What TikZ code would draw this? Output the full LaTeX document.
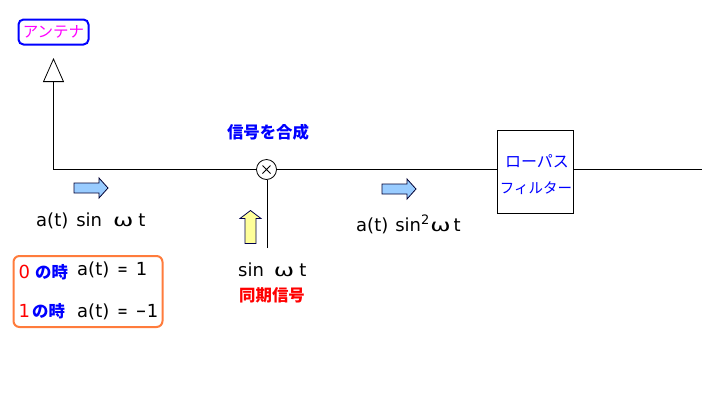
\documentclass[tikz,border=0pt]{standalone}
\usepackage{graphicx}
\usepackage{fontspec}
\setmainfont{DejaVu Sans}
\newfontfamily\jp{Noto Sans CJK JP}
\usetikzlibrary{arrows.meta}
\definecolor{flowblue}{RGB}{153,204,255}
\definecolor{syncyellow}{RGB}{255,255,153}
\definecolor{legendorange}{RGB}{255,124,60}
\definecolor{pureblue}{RGB}{0,0,255}
\definecolor{magentatxt}{RGB}{255,0,255}
% wide omega and narrow relation signs used in the formulas
\newcommand{\wideom}{\scalebox{1.35}[.95]{ω}}
\newcommand{\narroweq}{\scalebox{.7}[1]{=}}
\newcommand{\narrowminus}{\scalebox{.7}[1]{−}}
\tikzset{
  x=1pt,y=-1pt,
  wire/.style={draw=black,line width=1pt},
  jbold/.style={inner sep=0pt,font=\jp\fontsize{16.4}{18}\selectfont\bfseries},
  jplain/.style={inner sep=0pt,text=pureblue},
  formula/.style={inner sep=0pt,anchor=base west,font=\fontsize{18}{20}\selectfont},
  digit/.style={inner sep=0pt,anchor=base west,text=red,font=\fontsize{18}{20}\selectfont},
  flowright/.pic={
    \draw[draw=black!80!blue,line width=.8pt,fill=flowblue]
      (0,-5) -- (25,-5) -- (25,-10) -- (34,0) -- (25,10) -- (25,5) -- (0,5) -- cycle;
  },
  syncup/.pic={
    \draw[draw=black!70!blue,line width=.8pt,fill=syncyellow]
      (-5.5,33) -- (-5.5,8) -- (-10.5,8) -- (0,0) -- (10.5,8) -- (5.5,8) -- (5.5,33) -- cycle;
  },
}
\begin{document}
\begin{tikzpicture}
\useasboundingbox (0,0) rectangle (708,408);
\fill[white] (0,0) rectangle (708,408);

% antenna label
\node[draw=pureblue,line width=2pt,rounded corners=5pt,minimum width=70pt,minimum height=25pt,
      inner sep=0pt,text=magentatxt,font=\jp\fontsize{15.5}{18}\selectfont] (ant) at (53.5,32) {アンテナ};
\coordinate (tip) at (53.5,58);
\coordinate (corner) at (53.5,169.5);

% mixer and low-pass filter
\node[circle,draw=black,line width=.8pt,minimum size=20pt,inner sep=0pt] (mix) at (266.5,169.5) {};
\draw[line width=.9pt] (mix.center)+(-4,-4) -- +(4,4) (mix.center)+(-4,4) -- +(4,-4);
\node[draw=black,line width=1pt,minimum width=76pt,minimum height=83pt,inner sep=0pt] (lpf) at (535.5,171.5) {};
\node[jplain,font=\jp\fontsize{16}{18}\selectfont] (lpf1) at (537,161) {ローパス};
\node[jplain,font=\jp\fontsize{14.5}{18}\selectfont] (lpf2) at (536,188) {フィルター};
\coordinate (out) at (702,169.5);
\coordinate (syncend) at (267,248);

% signal path
\draw[line width=1pt,-{Triangle[open,length=24pt,width=21pt,line width=.8pt]}] (mix.west) -- (corner) -- (tip);
\draw[wire] (mix.east) -- (mix.east -| lpf.west);
\draw[wire] (lpf.east |- out) -- (out);
\draw[wire] (syncend) -- (syncend |- mix.south);

% direction arrows
\pic at (74,188) {flowright};
\pic at (382,189) {flowright};
\pic at (250.5,210.5) {syncup};

% labels
\node[jbold,text=pureblue] (combine) at (268,132) {信号を合成};
\node[formula] (s1) at (36,226) {a(t)\hspace{8pt}sin\hspace{11pt}\wideom\hspace{5pt}t};
\node[formula] (s2) at (356,231) {a(t)\hspace{7pt}sin\raisebox{7pt}{\fontsize{13}{14}\selectfont 2}\hspace{1pt}\wideom\hspace{3pt}t};
\node[formula] (s3) at (238,276) {sin\hspace{10pt}\wideom\hspace{5pt}t};
\node[jbold,text=red] (sync) at (272,295) {同期信号};

% legend
\node[draw=legendorange,line width=2pt,rounded corners=6pt,minimum width=149pt,minimum height=71pt,inner sep=0pt] (legend) at (88,291.5) {};
\node[digit] (z) at (18.5,278) {0};
\node[jbold,text=pureblue,anchor=base west] (zt) at (35,278) {の時};
\node[formula] (zf) at (77,275) {a(t)\hspace{8pt}\narroweq\hspace{8pt}1};
\node[digit] (o) at (18.5,317) {1};
\node[jbold,text=pureblue,anchor=base west] (ot) at (32,317) {の時};
\node[formula] (of) at (77,317) {a(t)\hspace{8pt}\narroweq\hspace{8pt}\narrowminus\hspace{.5pt}1};
\end{tikzpicture}
\end{document}
